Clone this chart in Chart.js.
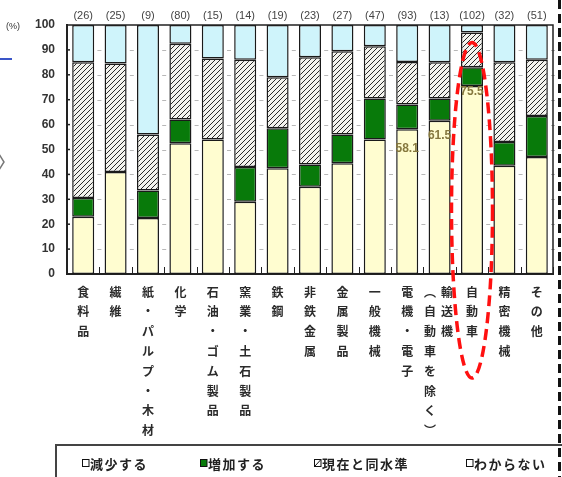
<!DOCTYPE html>
<html lang="ja">
<head>
<meta charset="utf-8">
<script src="https://cdn.jsdelivr.net/npm/chart.js@4/dist/chart.umd.min.js"></script>
<style>
html, body { margin: 0; padding: 0; background: #fff; }
#wrap { position: relative; width: 562px; height: 477px; overflow: hidden; }
</style>
</head>
<body>
<div id="wrap"><canvas id="c" width="562" height="477"></canvas></div>
<script>
// Industries (x categories)
const categories = ['食料品', '繊維', '紙・パルプ・木材', '化学', '石油・ゴム製品', '窯業・土石製品', '鉄鋼',
  '非鉄金属', '金属製品', '一般機械', '電機・電子', '輸送機（自動車を除く）', '自動車', '精密機械', 'その他'];
// Number of respondents per industry
const respondents = [26, 25, 9, 80, 15, 14, 19, 23, 27, 47, 93, 13, 102, 32, 51];
// Shares (%) of each answer, stacked bottom to top
const decrease = [23, 41, 22.5, 52.5, 54, 29, 42.5, 35, 44.5, 54, 58.1, 61.5, 75.5, 43.5, 47];
const increase = [7.5, 0, 11, 9.5, 0, 14, 16, 9, 11.5, 16.5, 10, 9, 7.5, 9.5, 16.5];
const same     = [54.5, 43.5, 22.5, 30.5, 32.5, 43, 20.5, 43, 33.5, 21, 17, 14.5, 14, 32, 22.5];
const unknown  = [15, 15.5, 44, 7.5, 13.5, 14, 21, 13, 10.5, 8.5, 14.9, 15, 3, 15, 14];
const seriesNames = ['減少する', '増加する', '現在と同水準', 'わからない'];
// Bars whose "減少する" share is printed on the bar
const labelledBars = [10, 11, 12];
// Highlighted industry
const highlightBar = 12;

const canvas = document.getElementById('c');
const ctx = canvas.getContext('2d');

const YELLOW = '#FFFDD0';
const GREEN = '#087A0A';
const BLUE = '#CFF4FB';
const CJK = '"Noto Sans CJK JP", "Noto Sans", sans-serif';

function makeHatch() {
  const s = 5;
  const t = document.createElement('canvas');
  t.width = s; t.height = s;
  const g = t.getContext('2d');
  g.fillStyle = '#F3F3EE';
  g.fillRect(0, 0, s, s);
  g.strokeStyle = '#2a2a2a';
  g.lineWidth = 1;
  g.beginPath();
  g.moveTo(0, s); g.lineTo(s, 0);
  g.moveTo(-1, 1); g.lineTo(1, -1);
  g.moveTo(s - 1, s + 1); g.lineTo(s + 1, s - 1);
  g.stroke();
  return ctx.createPattern(t, 'repeat');
}
const HATCH = makeHatch();

const verticalForms = { '（': '︵', '）': '︶' };

const decor = {
  id: 'decor',
  beforeDatasetsDraw(chart) {
    const { ctx, chartArea: a, scales: { x, y } } = chart;
    ctx.save();
    // short grid marks in the gaps between bars
    ctx.strokeStyle = '#b8b8b8';
    ctx.lineWidth = 1;
    for (let v = 10; v < 100; v += 10) {
      const py = Math.round(y.getPixelForValue(v)) + 0.5;
      for (let i = 0; i < categories.length; i++) {
        const bx = (x.getPixelForValue(i) + x.getPixelForValue(i + 1)) / 2;
        ctx.beginPath(); ctx.moveTo(bx - 2, py); ctx.lineTo(bx + 2, py); ctx.stroke();
      }
    }
    ctx.restore();
  },
  afterDraw(chart) {
    const { ctx, chartArea: a, scales: { x, y } } = chart;
    ctx.save();

    // plot frame (top and right)
    ctx.strokeStyle = '#222';
    ctx.lineWidth = 1.5;
    ctx.beginPath();
    ctx.moveTo(a.left, a.top); ctx.lineTo(a.right, a.top); ctx.lineTo(a.right, a.bottom);
    ctx.stroke();

    // inner ticks on the value axis
    ctx.lineWidth = 1.5;
    for (let v = 10; v < 100; v += 10) {
      const py = y.getPixelForValue(v);
      ctx.beginPath(); ctx.moveTo(a.left, py); ctx.lineTo(a.left + 3, py); ctx.stroke();
    }
    // inner ticks between categories on the bottom axis
    ctx.lineWidth = 1;
    for (let i = 0; i < categories.length; i++) {
      const bx = Math.round((x.getPixelForValue(i) + x.getPixelForValue(i + 1)) / 2) + 0.5;
      ctx.beginPath(); ctx.moveTo(bx, a.bottom - 7); ctx.lineTo(bx, a.bottom); ctx.stroke();
    }

    // unit label
    ctx.fillStyle = '#333';
    ctx.font = '9px "Liberation Sans", sans-serif';
    ctx.textAlign = 'left';
    ctx.textBaseline = 'middle';
    ctx.fillText('(%)', 6, y.getPixelForValue(100) + 2);

    // respondent counts above bars
    ctx.fillStyle = '#444';
    ctx.font = '11px "Liberation Sans", sans-serif';
    ctx.textAlign = 'center';
    respondents.forEach((n, i) => {
      ctx.fillText('(' + n + ')', x.getPixelForValue(i), a.top - 9);
    });

    // vertical category labels
    ctx.fillStyle = '#2b2b2b';
    ctx.font = 'bold 12px ' + CJK;
    ctx.textAlign = 'center';
    ctx.textBaseline = 'middle';
    const step = 19.8;
    categories.forEach((label, i) => {
      const cx = x.getPixelForValue(i);
      const p = label.indexOf('（');
      const cols = p > 0 ? [label.slice(0, p), label.slice(p)] : [label];
      const colX = cols.length > 1 ? [cx + 7.5, cx - 9.5] : [cx];
      cols.forEach((text, c) => {
        Array.from(text).forEach((ch, k) => {
          ctx.fillText(verticalForms[ch] || ch, colX[c], a.bottom + 18 + k * step);
        });
      });
    });

    // printed values on the "減少する" segment
    const meta = chart.getDatasetMeta(0);
    const labelDrop = { 10: 19, 11: 15, 12: 6 };
    ctx.fillStyle = '#86783e';
    ctx.font = 'bold 12px "Liberation Sans", sans-serif';
    labelledBars.forEach(i => {
      const bar = meta.data[i];
      ctx.fillText(decrease[i].toFixed(1), bar.x, bar.y + (labelDrop[i] || 10));
    });

    // red dashed highlight ring
    const hx = x.getPixelForValue(highlightBar);
    const top = y.getPixelForValue(93);
    const bottom = a.bottom + 104;
    ctx.strokeStyle = '#FF1010';
    ctx.lineWidth = 3.5;
    ctx.setLineDash([11, 6]);
    ctx.beginPath();
    ctx.ellipse(hx, (top + bottom) / 2, 20.5, (bottom - top) / 2, 0, 0, Math.PI * 2);
    ctx.stroke();
    ctx.setLineDash([]);

    // legend
    const ly = 463;
    ctx.strokeStyle = '#444';
    ctx.lineWidth = 2;
    ctx.strokeRect(56, 445, 530, 60);
    const items = [
      { x: 82, fill: '#fff' },
      { x: 200, fill: GREEN },
      { x: 314, fill: '#fff', slash: true },
      { x: 466, fill: '#fff' }
    ];
    ctx.font = 'bold 13px ' + CJK;
    ctx.textAlign = 'left';
    ctx.fillStyle = '#222';
    if ('letterSpacing' in ctx) ctx.letterSpacing = '1.5px';
    items.forEach((it, k) => {
      ctx.fillStyle = it.fill;
      ctx.fillRect(it.x, ly - 3.5, 7, 7);
      ctx.strokeStyle = '#111';
      ctx.lineWidth = 1;
      ctx.strokeRect(it.x + 0.5, ly - 3.5, 6.5, 7);
      if (it.slash) {
        ctx.beginPath(); ctx.moveTo(it.x + 1, ly + 3); ctx.lineTo(it.x + 6.5, ly - 3); ctx.stroke();
      }
      ctx.fillStyle = '#222';
      ctx.fillText(seriesNames[k], it.x + 8, ly + 1);
    });
    if ('letterSpacing' in ctx) ctx.letterSpacing = '0px';

    // page furniture: dashed right rule, fragments at the left edge
    ctx.strokeStyle = '#111';
    ctx.lineWidth = 3;
    ctx.setLineDash([9, 5]);
    ctx.beginPath(); ctx.moveTo(559.5, 0); ctx.lineTo(559.5, 477); ctx.stroke();
    ctx.setLineDash([]);
    ctx.strokeStyle = '#3a55c8';
    ctx.lineWidth = 2;
    ctx.beginPath(); ctx.moveTo(0, 59); ctx.lineTo(12, 59); ctx.stroke();
    ctx.strokeStyle = '#777';
    ctx.lineWidth = 1.5;
    ctx.beginPath(); ctx.moveTo(-1, 154); ctx.lineTo(4, 162); ctx.lineTo(-1, 170); ctx.stroke();

    ctx.restore();
  }
};

new Chart(ctx, {
  type: 'bar',
  data: {
    labels: categories,
    datasets: [
      { label: seriesNames[0], data: decrease, backgroundColor: YELLOW },
      { label: seriesNames[1], data: increase, backgroundColor: GREEN },
      { label: seriesNames[2], data: same, backgroundColor: HATCH },
      { label: seriesNames[3], data: unknown, backgroundColor: BLUE }
    ]
  },
  options: {
    responsive: false,
    animation: false,
    devicePixelRatio: 1,
    layout: { padding: { top: 25, right: 9, left: 0, bottom: 0 } },
    datasets: {
      bar: { barPercentage: 0.68, categoryPercentage: 1, borderWidth: 1.5, borderColor: '#1a1a1a', borderSkipped: false }
    },
    plugins: { legend: { display: false }, tooltip: { enabled: false } },
    scales: {
      x: {
        stacked: true,
        grid: { display: false },
        ticks: { display: false },
        border: { display: true, color: '#222', width: 2 },
        afterFit(s) { s.height = 203; }
      },
      y: {
        stacked: true,
        min: 0, max: 100,
        ticks: { stepSize: 10, color: '#333', padding: 12, font: { family: '"Liberation Sans", sans-serif', size: 12, weight: 'bold' } },
        grid: { display: false, drawTicks: false },
        border: { display: true, color: '#222', width: 2 },
        afterFit(s) { s.width = 67; }
      }
    }
  },
  plugins: [decor]
});
</script>
</body>
</html>
